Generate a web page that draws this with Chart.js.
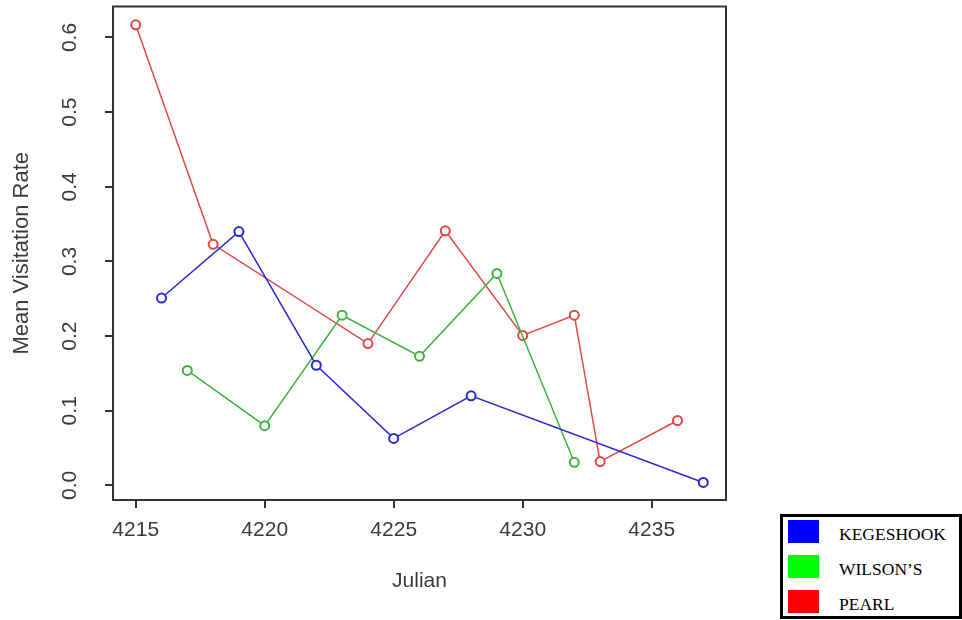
<!DOCTYPE html>
<html>
<head>
<meta charset="utf-8">
<script src="https://cdn.jsdelivr.net/npm/chart.js@4"></script>
<style>
  html, body { margin: 0; padding: 0; background: #fff; }
  #wrap { position: relative; width: 962px; height: 620px; }
  #legend {
    position: absolute; left: 780px; top: 514px; width: 176px; height: 99px;
    border: 3px solid #000; background: #fff;
    font-family: 'Liberation Serif', 'Times New Roman', serif; font-size: 17.5px; color: #000;
  }
  .row { position: absolute; left: 5px; height: 23px; }
  .sw { position: absolute; left: 0; top: 0; width: 31px; height: 23px; }
  .lb { position: absolute; left: 51px; top: 4px; white-space: nowrap; }
</style>
</head>
<body>
<div id="wrap">
  <canvas id="visitChart" width="962" height="620"></canvas>
  <div id="legend"></div>
</div>
<script>
// Julian day and mean visitation rate per site
var kegeshookDays = [4216, 4219, 4222, 4225, 4228, 4237];
var kegeshookRates = [0.251, 0.340, 0.161, 0.063, 0.120, 0.004];
var wilsonsDays = [4217, 4220, 4223, 4226, 4229, 4232];
var wilsonsRates = [0.154, 0.080, 0.228, 0.173, 0.284, 0.031];
var pearlDays = [4215, 4218, 4224, 4227, 4230, 4232, 4233, 4236];
var pearlRates = [0.617, 0.323, 0.190, 0.341, 0.201, 0.228, 0.032, 0.087];

var siteNames = ['KEGESHOOK', 'WILSON\u2019S', 'PEARL'];
var legendColors = ['#0000ff', '#00ff00', '#ff0000'];
var xTicks = [4215, 4220, 4225, 4230, 4235];
var yTicks = [0, 0.1, 0.2, 0.3, 0.4, 0.5, 0.6];

function toPoints(days, rates) {
    return days.map(function(d, i) { return { x: d, y: rates[i] }; });
}

var lineColors = ['#2a2ad4', '#3fb43f', '#e04848'];
var series = [
    toPoints(kegeshookDays, kegeshookRates),
    toPoints(wilsonsDays, wilsonsRates),
    toPoints(pearlDays, pearlRates)
];

// R-style box round the plot area
var boxPlugin = {
    id: 'boxPlugin',
    afterDraw: function(chart) {
        var a = chart.chartArea, ctx = chart.ctx;
        ctx.save();
        ctx.strokeStyle = '#333';
        ctx.lineWidth = 2;
        ctx.strokeRect(a.left, a.top, a.right - a.left, a.bottom - a.top);
        ctx.restore();
    }
};

var tickFont = { family: "'Liberation Sans', Arial, sans-serif", size: 21 };

new Chart(document.getElementById('visitChart').getContext('2d'), {
    type: 'line',
    data: {
        datasets: series.map(function(pts, i) {
            return {
                label: siteNames[i],
                data: pts,
                borderColor: lineColors[i],
                borderWidth: 1.5,
                pointRadius: 4.5,
                pointBorderWidth: 2,
                pointBorderColor: lineColors[i],
                pointBackgroundColor: '#fff',
                tension: 0
            };
        })
    },
    options: {
        responsive: false,
        animation: false,
        layout: { padding: { left: 0, right: 236, top: 6, bottom: 0 } },
        plugins: {
            legend: { display: false },
            tooltip: { enabled: false }
        },
        scales: {
            x: {
                type: 'linear',
                min: 4214.12,
                max: 4237.88,
                afterBuildTicks: function(scale) {
                    scale.ticks = xTicks.map(function(v) { return { value: v }; });
                },
                afterFit: function(scale) {
                    scale.height = 120;
                    scale.paddingLeft = 0;
                    scale.paddingRight = 0;
                },
                grid: { drawOnChartArea: false, drawTicks: true, tickLength: 8, color: '#333', lineWidth: 2 },
                border: { display: false },
                ticks: { font: tickFont, color: '#3a3a3a', padding: 10, maxRotation: 0,
                    callback: function(v) { return String(v); } },
                title: { display: true, text: 'Julian', color: '#3a3a3a',
                    font: { family: "'Liberation Sans', Arial, sans-serif", size: 21 },
                    padding: { top: 0, bottom: 26 } }
            },
            y: {
                min: -0.0195,
                max: 0.6415,
                afterBuildTicks: function(scale) {
                    scale.ticks = yTicks.map(function(v) { return { value: v }; });
                },
                afterFit: function(scale) {
                    scale.width = 113;
                    scale.paddingTop = 0;
                    scale.paddingBottom = 0;
                },
                grid: { drawOnChartArea: false, drawTicks: true, tickLength: 8, color: '#333', lineWidth: 2 },
                border: { display: false },
                ticks: { font: tickFont, color: '#3a3a3a', padding: 20, minRotation: 90, maxRotation: 90,
                    crossAlign: 'center',
                    callback: function(v) { return v.toFixed(1); } },
                title: { display: true, text: 'Mean Visitation Rate', color: '#3a3a3a',
                    font: { family: "'Liberation Sans', Arial, sans-serif", size: 22 },
                    padding: { top: 9, bottom: 0 } }
            }
        }
    },
    plugins: [boxPlugin]
});

var legendEl = document.getElementById('legend');
siteNames.forEach(function(name, i) {
    var row = document.createElement('div');
    row.className = 'row';
    row.style.top = (3 + i * 35) + 'px';
    row.innerHTML = '<div class="sw" style="background:' + legendColors[i] + '"></div><div class="lb">' + name + '</div>';
    legendEl.appendChild(row);
});
</script>
</body>
</html>
